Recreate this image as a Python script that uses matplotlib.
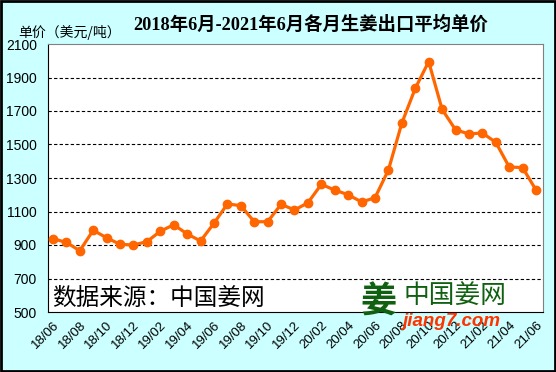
import matplotlib
matplotlib.use('Agg')
import matplotlib.pyplot as plt
from matplotlib.patches import Rectangle

# monthly export average price, 2018/06 - 2021/06 (USD/ton)
months = ['18/06', '18/07', '18/08', '18/09', '18/10', '18/11', '18/12',
          '19/01', '19/02', '19/03', '19/04', '19/05', '19/06', '19/07', '19/08',
          '19/09', '19/10', '19/11', '19/12',
          '20/01', '20/02', '20/03', '20/04', '20/05', '20/06', '20/07', '20/08',
          '20/09', '20/10', '20/11', '20/12',
          '21/01', '21/02', '21/03', '21/04', '21/05', '21/06']
price = [938, 915, 866, 988, 943, 904, 900,
         920, 982, 1021, 966, 924, 1030, 1145, 1135,
         1039, 1039, 1143, 1109,
         1152, 1262, 1228, 1200, 1157, 1182, 1348, 1628,
         1835, 1995, 1710, 1588,
         1563, 1569, 1513, 1366, 1362, 1228]
yticks = [500, 700, 900, 1100, 1300, 1500, 1700, 1900, 2100]

cjk = ['Noto Sans CJK SC', 'DejaVu Sans']

fig = plt.figure(figsize=(5.56, 3.72), dpi=100, facecolor='#ccffff')
ax = fig.add_axes([48/556, 60/372, 495/556, 268/372])
ax.set_facecolor('white')

x = list(range(len(months)))
ax.plot(x, price, color='#ff6600', lw=2.3, marker='o', ms=6,
        markerfacecolor='#ff6600', markeredgecolor='#ff6600', zorder=3)

ax.set_xlim(-0.37, 36.52)
ax.set_ylim(500, 2100)
ax.set_yticks(yticks)
ax.set_yticklabels([str(v) for v in yticks], fontsize=10, family='Liberation Sans')
ax.set_xticks(x[::2])
ax.set_xticklabels(months[::2], rotation=45, ha='right', va='top',
                   rotation_mode='anchor', fontsize=9.5, family='Liberation Sans')
ax.tick_params(axis='y', length=0, pad=8)
ax.tick_params(axis='x', length=0, pad=5)

for v in yticks[1:-1]:
    ax.axhline(v, color='black', lw=0.8, ls=(0, (3, 2)), zorder=1)

ax.spines['left'].set_color('black')
ax.spines['bottom'].set_color('black')
ax.spines['top'].set_color('#808080')
ax.spines['right'].set_color('#808080')

fig.text(311/556, 1 - 25/372, '2018年6月-2021年6月各月生姜出口平均单价',
         ha='center', va='center', fontsize=13.2, fontweight='bold',
         family=['Liberation Serif', 'Noto Sans CJK SC'])
fig.text(18/556, 1 - 32/372, '单价（美元/吨）', ha='left', va='center',
         fontsize=10, family=cjk)

# watermarks
fig.text(52/556, 1 - 298/372, '数据来源：中国姜网', ha='left', va='center',
         fontsize=17, family=cjk, color='black')
fig.text(378/556, 1 - 302/372, '姜', ha='center', va='center',
         fontsize=26, fontweight='bold', family=cjk, color='#0f6010')
fig.text(404/556, 1 - 296/372, '中国姜网', ha='left', va='center',
         fontsize=18.5, fontweight='medium', family=cjk, color='#0f6010')
fig.text(402/556, 1 - 321/372, 'jiang7.com', ha='left', va='center',
         fontsize=13.5, fontweight='bold', style='italic',
         family='Liberation Sans', color='#ff3300')

fig.patches.append(Rectangle((0.002, 0.003), 0.996, 0.994, transform=fig.transFigure,
                             fill=False, edgecolor='black', lw=2))

fig.savefig('out.png', dpi=100, facecolor=fig.get_facecolor())
